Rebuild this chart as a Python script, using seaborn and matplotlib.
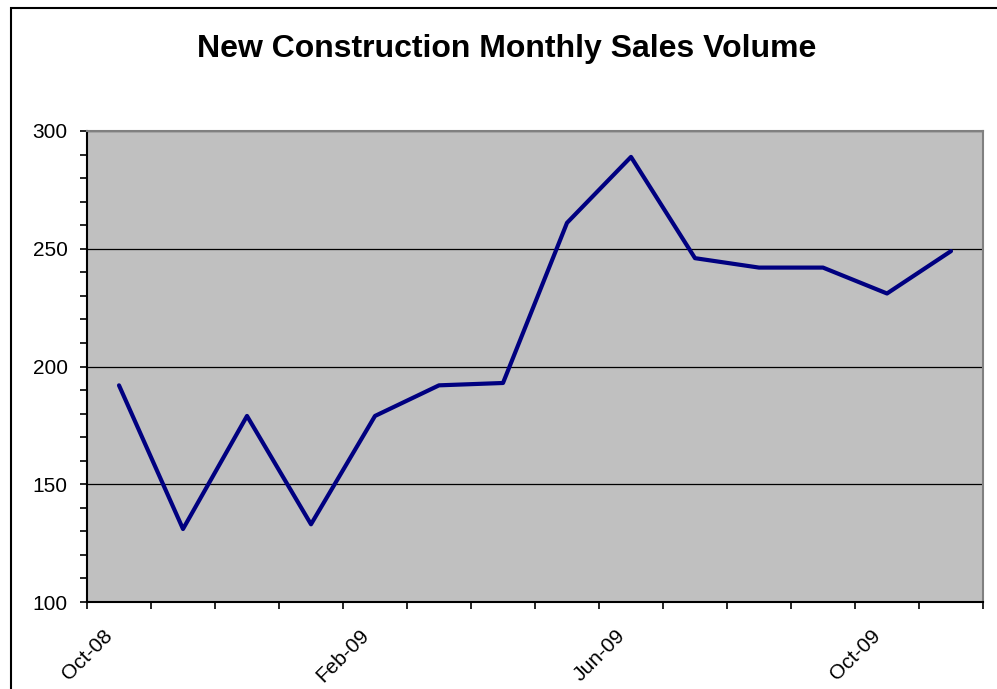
import numpy as np
import pandas as pd
import matplotlib
matplotlib.use("Agg")
import matplotlib.pyplot as plt
import seaborn as sns
from matplotlib.patches import Rectangle

# monthly sales, one point per month (Oct-08 .. Nov-09)
months = ["Oct-08", "Nov-08", "Dec-08", "Jan-09", "Feb-09", "Mar-09", "Apr-09",
          "May-09", "Jun-09", "Jul-09", "Aug-09", "Sep-09", "Oct-09", "Nov-09"]
sales = [192, 131, 179, 133, 179, 192, 193, 261, 289, 246, 242, 242, 231, 249]
y_ticks = [100, 150, 200, 250, 300]
label_every = 4

df = pd.DataFrame({"month": months, "sales": sales})

sns.set_theme(style="ticks")
plt.rcParams["font.family"] = ["Liberation Sans", "DejaVu Sans"]
plt.rcParams["text.color"] = "black"
plt.rcParams["xtick.color"] = "black"
plt.rcParams["ytick.color"] = "black"

fig = plt.figure(figsize=(9.97, 6.89), dpi=100)
ax = fig.add_axes([87 / 997, 1 - 602 / 689, (983 - 87) / 997, (602 - 131) / 689])
ax.set_facecolor("#C0C0C0")

sns.lineplot(data=df, x="month", y="sales", sort=False, color="#000080",
             linewidth=3.0, ax=ax, zorder=3)

# categories sit between monthly ticks, like Excel's date axis
ax.set_xlim(-0.5, len(months) - 0.5)
ax.set_xticks(np.arange(-0.5, len(months), label_every))
ax.set_xticklabels(months[::label_every], rotation=45, fontsize=15, color="black")
ax.set_xticks(np.arange(-0.5, len(months), 1), minor=True)

ax.set_ylim(y_ticks[0], y_ticks[-1])
ax.set_yticks(y_ticks)
ax.set_yticklabels([str(v) for v in y_ticks], fontsize=15, color="black")
ax.set_yticks(np.arange(y_ticks[0], y_ticks[-1] + 1, 10), minor=True)

ax.tick_params(axis="y", which="both", direction="out", length=5, width=1.2,
               color="black", pad=9)
ax.tick_params(axis="x", which="both", direction="out", length=5, width=1.2,
               color="black", pad=12)
ax.set_xlabel("")
ax.set_ylabel("")

ax.grid(axis="y", which="major", color="black", linewidth=0.9)
ax.grid(axis="x", visible=False)
ax.set_axisbelow(True)

for side in ["left", "bottom"]:
    ax.spines[side].set_color("black")
    ax.spines[side].set_linewidth(1.5)
for side in ["top", "right"]:
    ax.spines[side].set_visible(True)
    ax.spines[side].set_color("#808080")
    ax.spines[side].set_linewidth(1.5)

fig.text(507 / 997, 1 - 49 / 689, "New Construction Monthly Sales Volume",
         ha="center", va="center", fontsize=23, fontweight="bold", color="black")

# chart area border
fig.patches.append(Rectangle((11 / 997, -0.05), 1.2, 1 - 8 / 689 + 0.05,
                             transform=fig.transFigure, fill=False,
                             edgecolor="black", linewidth=1.5))

fig.savefig("out.png", dpi=100)
